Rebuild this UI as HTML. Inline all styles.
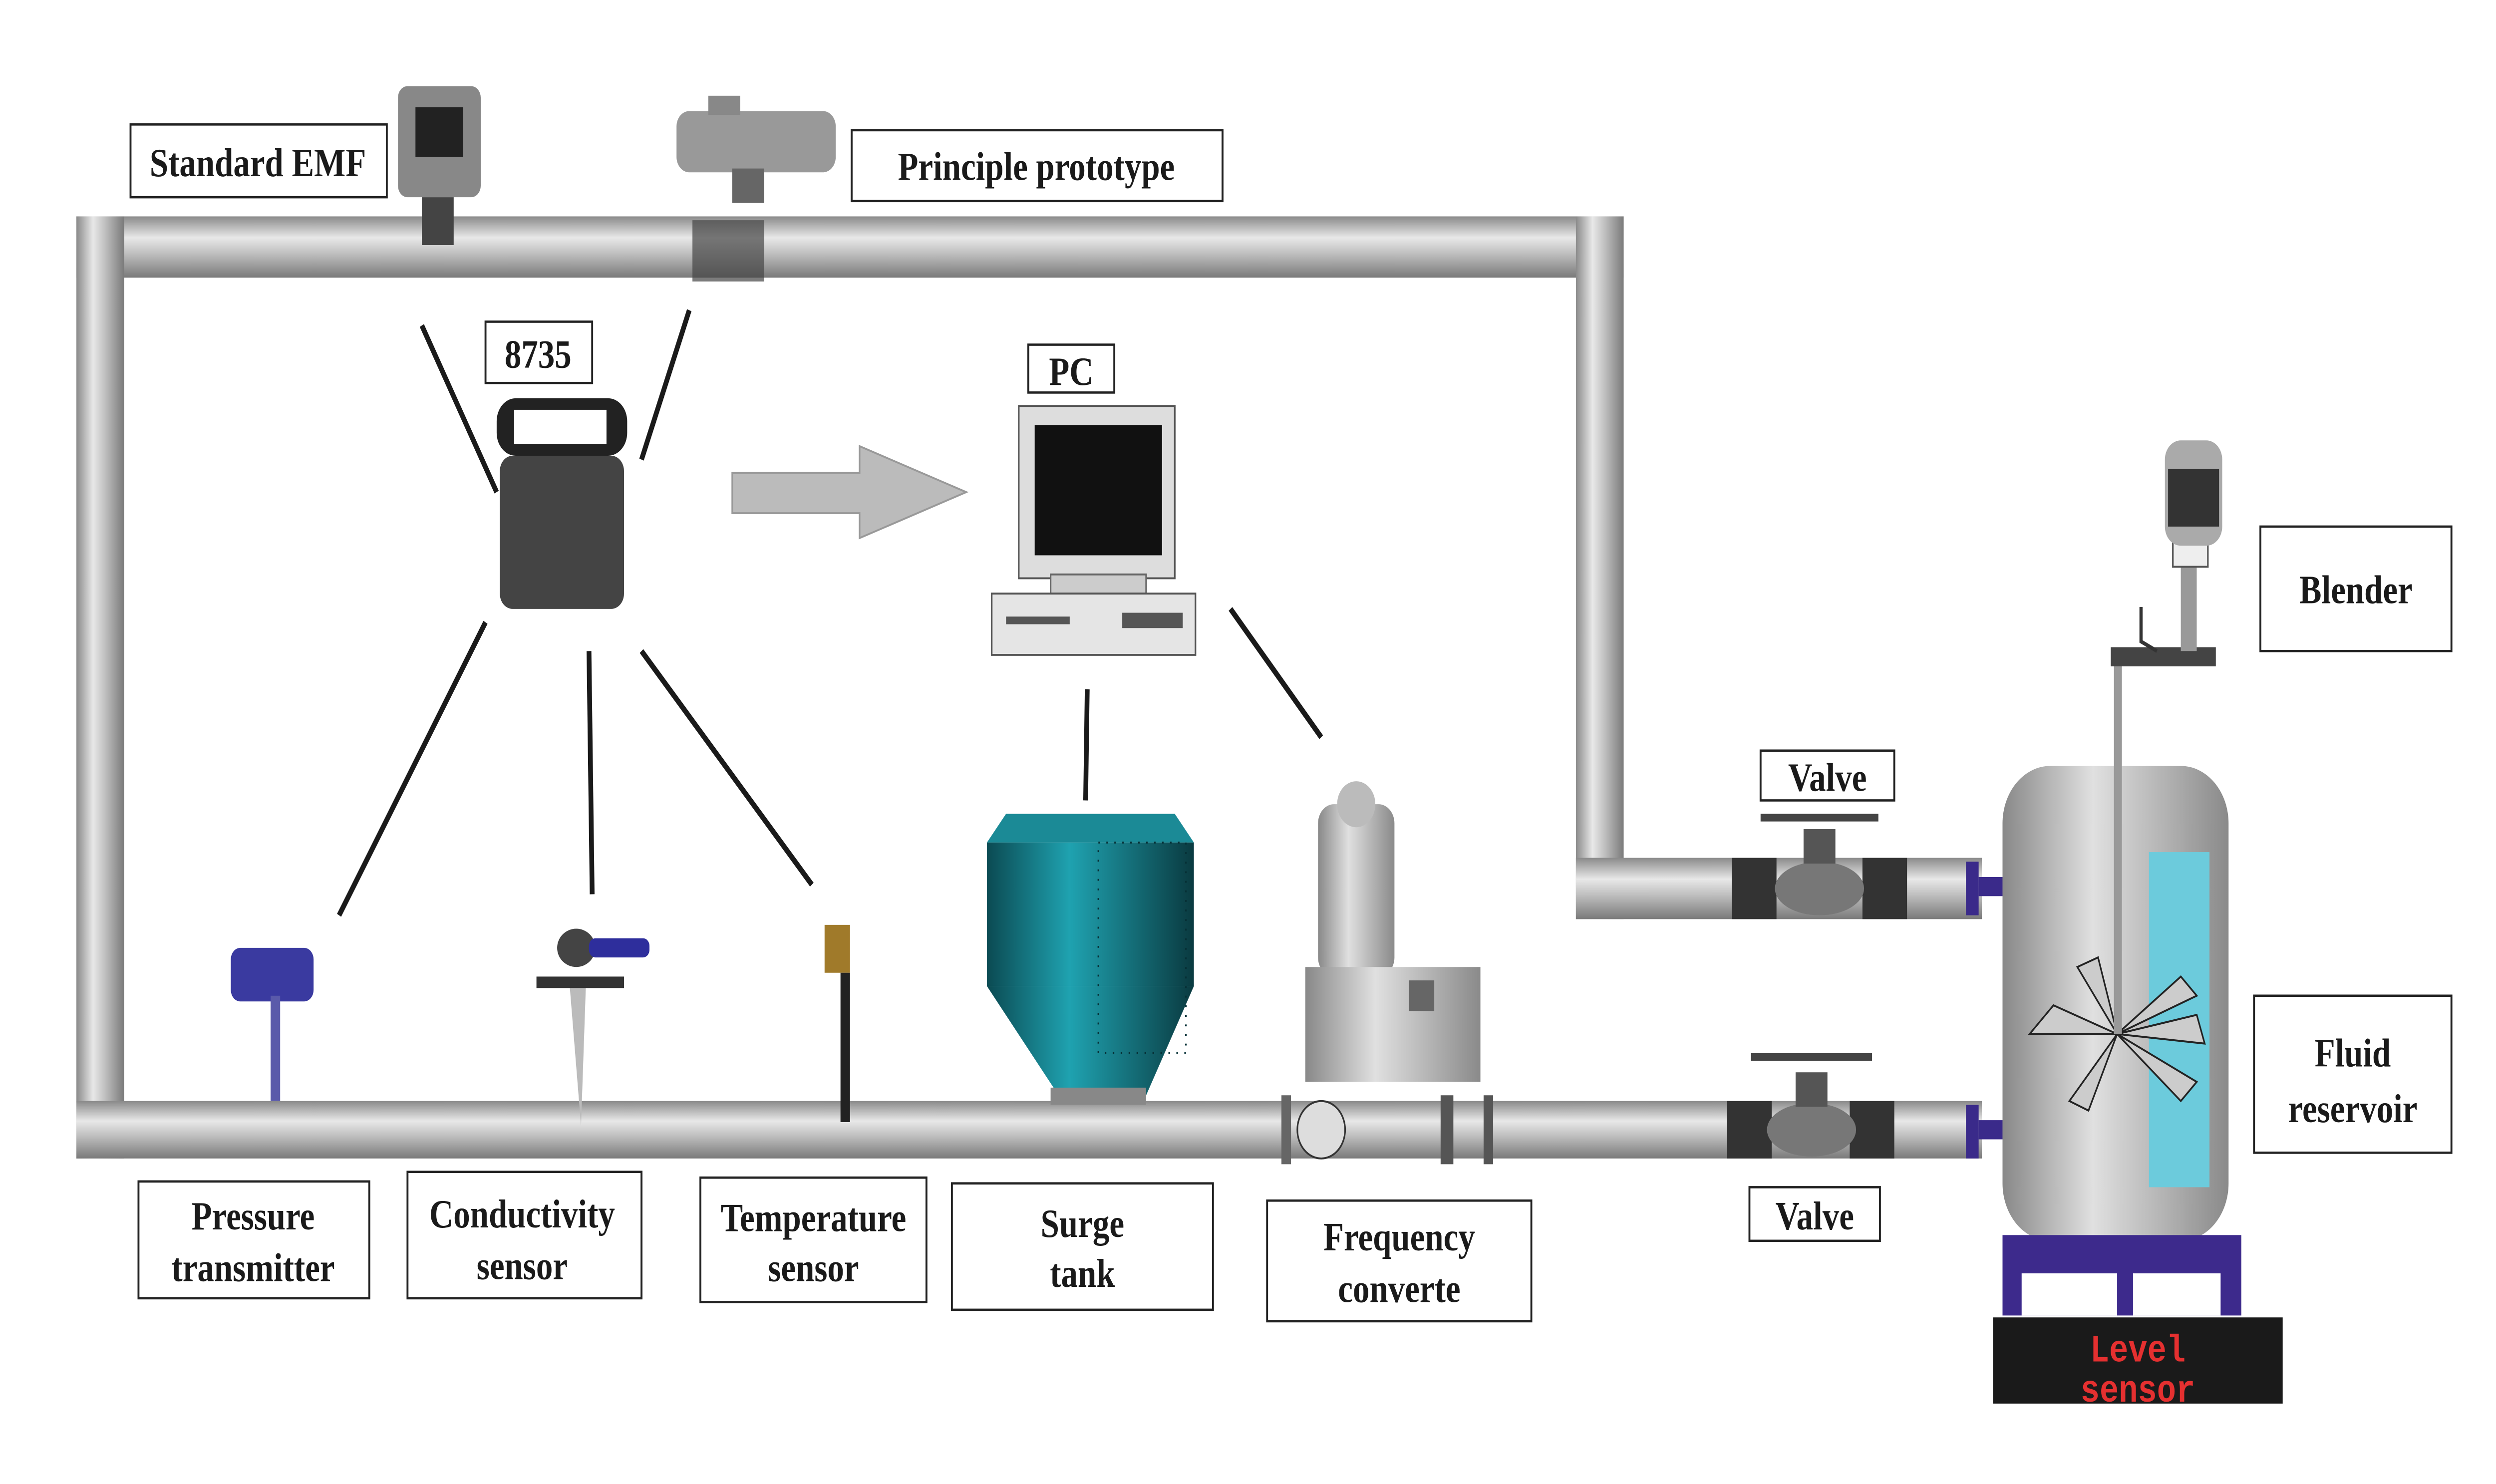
<!DOCTYPE html>
<html><head><meta charset="utf-8"><style>
html,body{margin:0;padding:0;background:#fff;width:100vw;height:100vh;overflow:hidden;}
svg{display:block;position:absolute;left:0;top:0;width:100vw;height:100vh}
text{font-family:"Liberation Serif",serif;font-weight:bold;fill:#1a1a1a}
</style></head><body>
<svg viewBox="0 0 1568 775" preserveAspectRatio="none" xmlns="http://www.w3.org/2000/svg">
<defs>
<linearGradient id="ph" x1="0" y1="0" x2="0" y2="1"><stop offset="0" stop-color="#8a8a8a"/><stop offset="0.35" stop-color="#e8e8e8"/><stop offset="0.6" stop-color="#c0c0c0"/><stop offset="1" stop-color="#7a7a7a"/></linearGradient>
<linearGradient id="pv" x1="0" y1="0" x2="1" y2="0"><stop offset="0" stop-color="#8a8a8a"/><stop offset="0.35" stop-color="#e8e8e8"/><stop offset="0.6" stop-color="#c0c0c0"/><stop offset="1" stop-color="#7a7a7a"/></linearGradient>
<linearGradient id="tank" x1="0" y1="0" x2="1" y2="0"><stop offset="0" stop-color="#888"/><stop offset="0.4" stop-color="#e0e0e0"/><stop offset="1" stop-color="#8a8a8a"/></linearGradient>
<linearGradient id="teal" x1="0" y1="0" x2="1" y2="0"><stop offset="0" stop-color="#0b4a52"/><stop offset="0.4" stop-color="#1fa2b0"/><stop offset="1" stop-color="#0a3a40"/></linearGradient>
</defs>
<!-- pipes -->
<rect x="48" y="113" width="972" height="32" fill="url(#ph)"/>
<rect x="48" y="113" width="30" height="492" fill="url(#pv)"/>
<rect x="990" y="113" width="30" height="367" fill="url(#pv)"/>
<rect x="990" y="448" width="255" height="32" fill="url(#ph)"/>
<rect x="48" y="575" width="1197" height="30" fill="url(#ph)"/>
<!-- valves -->
<g>
<rect x="1088" y="448" width="28" height="32" fill="#333"/><rect x="1170" y="448" width="28" height="32" fill="#333"/>
<ellipse cx="1143" cy="464" rx="28" ry="14" fill="#777"/>
<rect x="1133" y="433" width="20" height="18" fill="#555"/><rect x="1106" y="425" width="74" height="4" fill="#444"/>
<rect x="1235" y="450" width="8" height="28" fill="#3a2a8a"/><rect x="1243" y="458" width="15" height="10" fill="#3a2a8a"/>
</g>
<g>
<rect x="1085" y="575" width="28" height="30" fill="#333"/><rect x="1162" y="575" width="28" height="30" fill="#333"/>
<ellipse cx="1138" cy="590" rx="28" ry="14" fill="#777"/>
<rect x="1128" y="560" width="20" height="18" fill="#555"/><rect x="1100" y="550" width="76" height="4" fill="#444"/>
<rect x="1235" y="577" width="8" height="28" fill="#3a2a8a"/><rect x="1243" y="585" width="15" height="10" fill="#3a2a8a"/>
</g>
<!-- reservoir -->
<rect x="1258" y="400" width="142" height="248" rx="30" fill="url(#tank)"/>
<rect x="1350" y="445" width="38" height="175" fill="#6ccbdc"/>
<g fill="#ccc" stroke="#222" stroke-width="1">
<path d="M1330 540 L1275 540 L1290 525 Z"/><path d="M1330 540 L1305 505 L1318 500 Z"/><path d="M1330 540 L1380 520 L1370 510 Z"/>
<path d="M1330 540 L1385 545 L1380 530 Z"/><path d="M1330 540 L1370 575 L1380 565 Z"/><path d="M1330 540 L1300 575 L1312 580 Z"/>
</g>
<rect x="1328" y="340" width="5" height="200" fill="#999"/>
<rect x="1326" y="338" width="66" height="10" fill="#444"/>
<path d="M1345 317 L1345 335 L1355 340" stroke="#333" stroke-width="2" fill="none"/>
<rect x="1370" y="290" width="10" height="50" fill="#999"/>
<rect x="1365" y="282" width="22" height="14" fill="#eee" stroke="#555"/>
<rect x="1360" y="230" width="36" height="55" rx="10" fill="#aaa"/>
<rect x="1362" y="245" width="32" height="30" fill="#333"/>
<rect x="1258" y="645" width="150" height="42" fill="#3d2a8c"/>
<rect x="1270" y="665" width="60" height="22" fill="#fff"/><rect x="1340" y="665" width="55" height="22" fill="#fff"/>
<rect x="1252" y="688" width="182" height="45" fill="#1a1a1a"/>
<text x="1343" y="711" text-anchor="middle" style="font-family:'Liberation Mono',monospace;fill:#e53030;font-weight:bold" font-size="20">Level</text>
<text x="1343" y="732" text-anchor="middle" style="font-family:'Liberation Mono',monospace;fill:#e53030;font-weight:bold" font-size="20">sensor</text>
<!-- surge tank -->
<path d="M620 440 L632 425 L738 425 L750 440 Z" fill="#1b8a96"/>
<rect x="620" y="440" width="130" height="75" fill="url(#teal)"/>
<path d="M620 515 L750 515 L720 572 L665 572 Z" fill="url(#teal)"/>
<rect x="690" y="440" width="55" height="110" fill="none" stroke="#063036" stroke-width="1" stroke-dasharray="1 4"/>
<rect x="660" y="568" width="60" height="9" fill="#888"/>
<!-- pump -->
<rect x="828" y="420" width="48" height="90" rx="10" fill="url(#tank)"/>
<circle cx="852" cy="420" r="12" fill="#bbb"/>
<rect x="820" y="505" width="110" height="60" fill="url(#tank)"/>
<rect x="885" y="512" width="16" height="16" fill="#666"/>
<circle cx="830" cy="590" r="15" fill="#ddd" stroke="#333"/>
<rect x="905" y="572" width="8" height="36" fill="#555"/><rect x="932" y="572" width="6" height="36" fill="#555"/>
<rect x="805" y="572" width="6" height="36" fill="#666"/>
<!-- sensors -->
<rect x="145" y="495" width="52" height="28" rx="6" fill="#3a3aa0"/>
<rect x="170" y="520" width="6" height="55" fill="#5a5aaa"/>
<ellipse cx="362" cy="495" rx="12" ry="10" fill="#444"/>
<rect x="370" y="490" width="38" height="10" rx="4" fill="#2e2e9c"/>
<rect x="337" y="510" width="55" height="6" fill="#333"/>
<path d="M358 516 L368 516 L365 588 Z" fill="#bbb"/>
<rect x="518" y="483" width="16" height="25" fill="#a07a2a"/>
<rect x="528" y="508" width="6" height="78" fill="#222"/>
<!-- EMFs -->
<rect x="250" y="45" width="52" height="58" rx="6" fill="#888"/>
<rect x="261" y="56" width="30" height="26" fill="#222"/>
<rect x="265" y="103" width="20" height="25" fill="#444"/>
<rect x="425" y="58" width="100" height="32" rx="8" fill="#999"/>
<rect x="445" y="50" width="20" height="10" fill="#888"/>
<rect x="460" y="88" width="20" height="18" fill="#666"/>
<rect x="435" y="115" width="45" height="32" fill="#444" opacity="0.7"/>
<!-- 8735 -->
<rect x="312" y="208" width="82" height="30" rx="12" fill="#222"/>
<rect x="323" y="214" width="58" height="18" fill="#fff"/>
<rect x="314" y="238" width="78" height="80" rx="8" fill="#444"/>
<!-- PC -->
<rect x="640" y="212" width="98" height="90" fill="#ddd" stroke="#555"/>
<rect x="650" y="222" width="80" height="68" fill="#111"/>
<rect x="660" y="300" width="60" height="10" fill="#ccc" stroke="#666"/>
<rect x="623" y="310" width="128" height="32" fill="#e5e5e5" stroke="#555"/>
<rect x="632" y="322" width="40" height="4" fill="#555"/><rect x="705" y="320" width="38" height="8" fill="#555"/>
<!-- arrow -->
<path d="M460 247 L540 247 L540 233 L607 257 L540 281 L540 268 L460 268 Z" fill="#bbb" stroke="#999"/>
<!-- lines -->
<g stroke="#1a1a1a" stroke-width="3">
<line x1="265" y1="170" x2="312" y2="257"/><line x1="433" y1="162" x2="403" y2="240"/>
<line x1="305" y1="325" x2="213" y2="478"/><line x1="370" y1="340" x2="372" y2="467"/>
<line x1="403" y1="340" x2="510" y2="462"/><line x1="683" y1="360" x2="682" y2="418"/>
<line x1="773" y1="318" x2="830" y2="385"/>
</g>
<!-- labels -->
<g fill="#fff" stroke="#222" stroke-width="1.2">
<rect x="82" y="65" width="161" height="38"/><rect x="535" y="68" width="233" height="37"/>
<rect x="305" y="168" width="67" height="32"/><rect x="646" y="180" width="54" height="25"/>
<rect x="1420" y="275" width="120" height="65"/><rect x="1106" y="392" width="84" height="26"/>
<rect x="1099" y="620" width="82" height="28"/><rect x="1416" y="520" width="124" height="82"/>
<rect x="87" y="617" width="145" height="61"/><rect x="256" y="612" width="147" height="66"/>
<rect x="440" y="615" width="142" height="65"/><rect x="598" y="618" width="164" height="66"/>
<rect x="796" y="627" width="166" height="63"/>
</g>
<g font-size="21" text-anchor="middle">
<text x="162" y="92">Standard EMF</text><text x="651" y="94">Principle prototype</text>
<text x="338" y="192">8735</text><text x="673" y="201">PC</text>
<text x="1480" y="315">Blender</text><text x="1148" y="413">Valve</text><text x="1140" y="642">Valve</text>
<text x="1478" y="557">Fluid</text><text x="1478" y="586">reservoir</text>
<text x="159" y="642">Pressure</text><text x="159" y="669">transmitter</text>
<text x="328" y="641">Conductivity</text><text x="328" y="668">sensor</text>
<text x="511" y="643">Temperature</text><text x="511" y="669">sensor</text>
<text x="680" y="646">Surge</text><text x="680" y="672">tank</text>
<text x="879" y="653">Frequency</text><text x="879" y="680">converte</text>
</g>
</svg>
</body></html>
